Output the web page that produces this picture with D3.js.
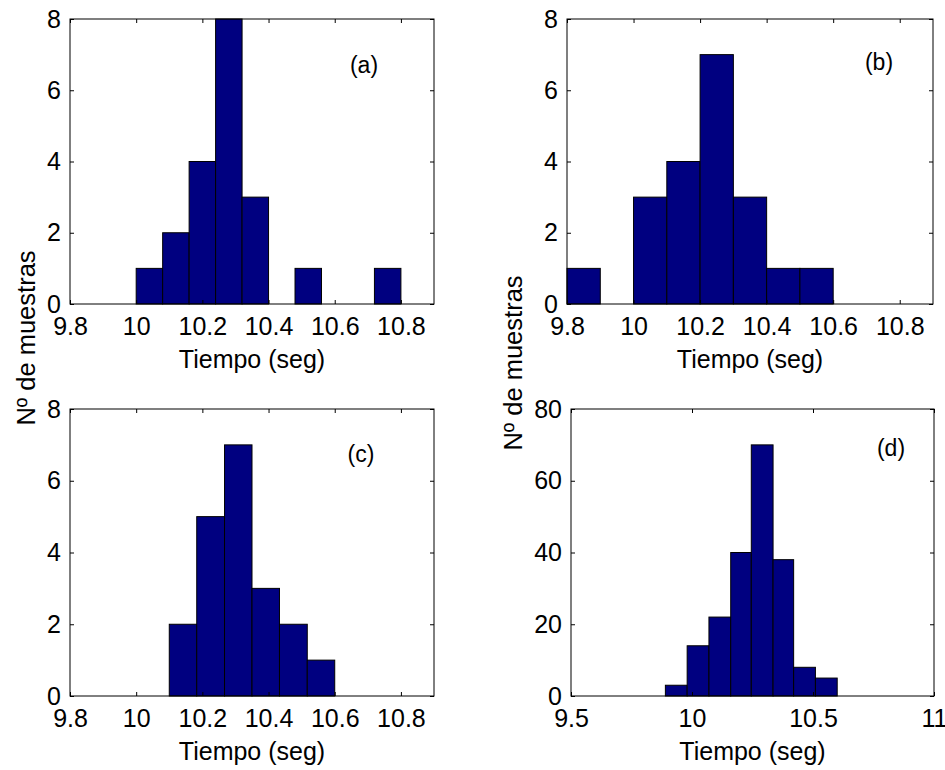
<!DOCTYPE html>
<html>
<head>
<meta charset="utf-8">
<script src="https://cdn.jsdelivr.net/npm/d3@7"></script>
<style>
  html, body { margin: 0; padding: 0; background: #fff; }
  svg { display: block; }
  text { font-family: "Liberation Sans", Arial, sans-serif; fill: #000; }
</style>
</head>
<body>
<svg id="chart" width="945" height="770"></svg>
<script>
// ---- Data ----
const edgesA = [10.0, 10.08, 10.16, 10.24, 10.32, 10.40, 10.48, 10.56, 10.64, 10.72, 10.80];
const countsA = [1, 2, 4, 8, 3, 0, 1, 0, 0, 1];

const edgesB = [9.8, 9.9, 10.0, 10.1, 10.2, 10.3, 10.4, 10.5, 10.6];
const countsB = [1, 0, 3, 4, 7, 3, 1, 1];

const edgesC = [10.1, 10.183, 10.267, 10.35, 10.433, 10.517, 10.6];
const countsC = [2, 5, 7, 3, 2, 1];

const edgesD = [9.89, 9.98, 10.07, 10.16, 10.245, 10.335, 10.42, 10.51, 10.6];
const countsD = [3, 14, 22, 40, 70, 38, 8, 5];

const xTicksABC = [9.8, 10, 10.2, 10.4, 10.6, 10.8];
const xTicksD = [9.5, 10, 10.5, 11];
const yTicksABC = [0, 2, 4, 6, 8];
const yTicksD = [0, 20, 40, 60, 80];

const panelLabels = ["(a)", "(b)", "(c)", "(d)"];
const xTitle = "Tiempo (seg)";
const yTitle = "Nº de muestras";

// ---- Layout ----
const panels = [
  { edges: edgesA, counts: countsA, xDom: [9.8, 10.9], yDom: [0, 8], xt: xTicksABC, yt: yTicksABC,
    box: { x0: 70, x1: 434, y0: 19, y1: 304 }, lab: panelLabels[0], labPos: [364, 73] },
  { edges: edgesB, counts: countsB, xDom: [9.8, 10.9], yDom: [0, 8], xt: xTicksABC, yt: yTicksABC,
    box: { x0: 567, x1: 933, y0: 19, y1: 304 }, lab: panelLabels[1], labPos: [879, 70] },
  { edges: edgesC, counts: countsC, xDom: [9.8, 10.9], yDom: [0, 8], xt: xTicksABC, yt: yTicksABC,
    box: { x0: 70, x1: 434, y0: 409, y1: 696 }, lab: panelLabels[2], labPos: [361, 462] },
  { edges: edgesD, counts: countsD, xDom: [9.5, 11], yDom: [0, 80], xt: xTicksD, yt: yTicksD,
    box: { x0: 571, x1: 934, y0: 409, y1: 696 }, lab: panelLabels[3], labPos: [891, 456] }
];

const svg = d3.select("#chart");
const FS = 25;

panels.forEach(p => {
  const b = p.box;
  const x = d3.scaleLinear().domain(p.xDom).range([b.x0, b.x1]);
  const y = d3.scaleLinear().domain(p.yDom).range([b.y1, b.y0]);
  const g = svg.append("g");

  // bars
  const bins = p.counts.map((c, i) => ({ x0: p.edges[i], x1: p.edges[i + 1], c }));
  g.selectAll("rect.bar").data(bins.filter(d => d.c > 0)).join("rect")
    .attr("class", "bar")
    .attr("x", d => x(d.x0))
    .attr("width", d => x(d.x1) - x(d.x0))
    .attr("y", d => y(d.c))
    .attr("height", d => y(0) - y(d.c))
    .attr("fill", "#000080")
    .attr("stroke", "#000")
    .attr("stroke-width", 1);

  // axes (ticks inward)
  const ax = (sel) => {
    sel.selectAll(".domain").remove();
    sel.selectAll(".tick line").attr("stroke", "#000");
    sel.selectAll("text").style("font-size", FS + "px").attr("fill", "#000");
  };
  g.append("g").attr("transform", `translate(0,${b.y1})`)
    .call(d3.axisBottom(x).tickValues(p.xt).tickFormat(d3.format("")).tickSizeInner(-4).tickSizeOuter(0).tickPadding(13))
    .call(ax);
  g.append("g").attr("transform", `translate(0,${b.y0})`)
    .call(d3.axisTop(x).tickValues(p.xt).tickFormat("").tickSizeInner(-4).tickSizeOuter(0))
    .call(ax);
  g.append("g").attr("transform", `translate(${b.x0},0)`)
    .call(d3.axisLeft(y).tickValues(p.yt).tickFormat(d3.format("d")).tickSizeInner(-4).tickSizeOuter(0).tickPadding(9))
    .call(ax);
  g.append("g").attr("transform", `translate(${b.x1},0)`)
    .call(d3.axisRight(y).tickValues(p.yt).tickFormat("").tickSizeInner(-4).tickSizeOuter(0))
    .call(ax);

  // box
  g.append("rect")
    .attr("x", b.x0).attr("y", b.y0)
    .attr("width", b.x1 - b.x0).attr("height", b.y1 - b.y0)
    .attr("fill", "none").attr("stroke", "#000").attr("stroke-width", 1);

  // x title
  g.append("text")
    .attr("x", (b.x0 + b.x1) / 2).attr("y", b.y1 + 64)
    .attr("text-anchor", "middle").style("font-size", FS + "px")
    .text(xTitle);

  // panel label
  g.append("text")
    .attr("x", p.labPos[0]).attr("y", p.labPos[1])
    .attr("text-anchor", "middle").style("font-size", "23px")
    .text(p.lab);
});

// y titles
svg.append("text")
  .attr("transform", "translate(35,338) rotate(-90)")
  .attr("text-anchor", "middle").style("font-size", "25.5px")
  .text(yTitle);
svg.append("text")
  .attr("transform", "translate(522,363) rotate(-90)")
  .attr("text-anchor", "middle").style("font-size", "25.5px")
  .text(yTitle);
</script>
</body>
</html>
